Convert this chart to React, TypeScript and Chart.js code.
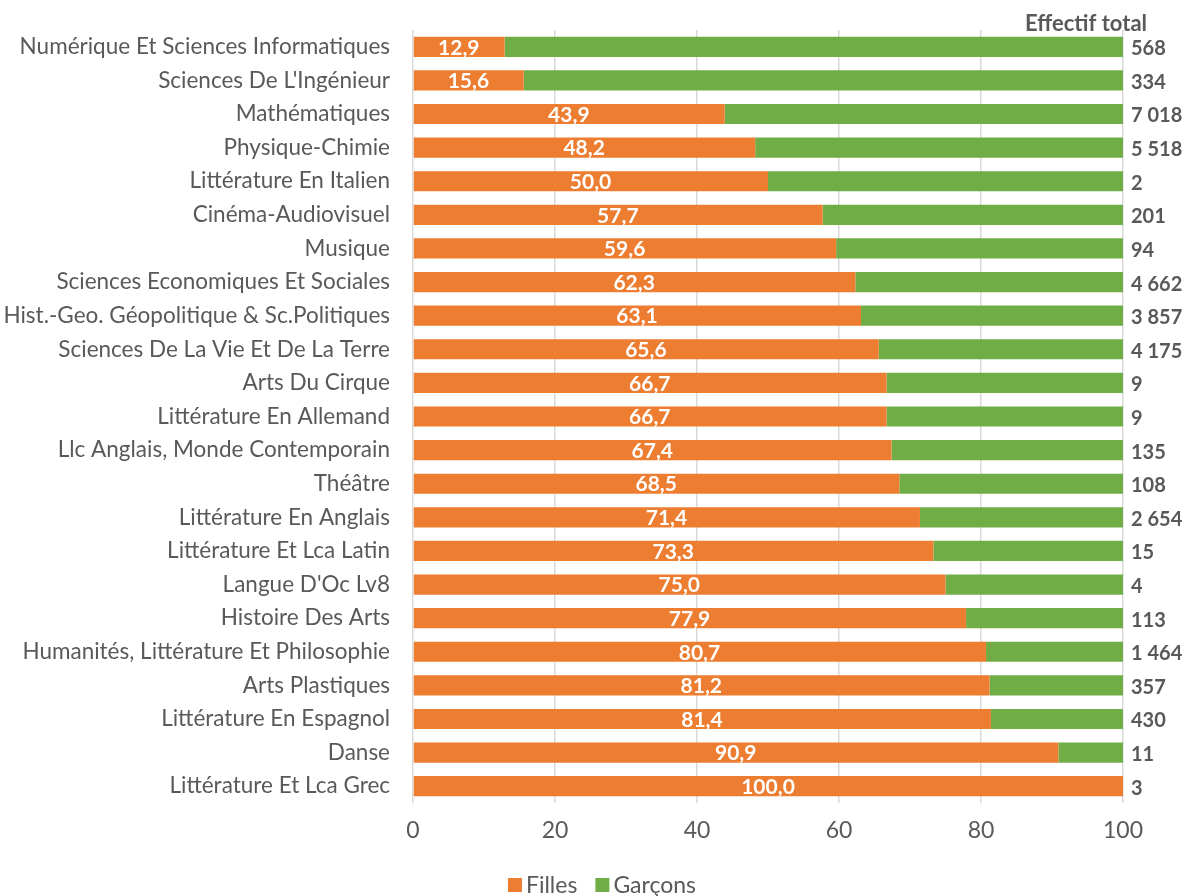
import React, { useEffect, useRef } from "react";
import { Chart, registerables } from "chart.js";

Chart.register(...registerables);

const categories = [
  "Numérique Et Sciences Informatiques",
  "Sciences De L'Ingénieur",
  "Mathématiques",
  "Physique-Chimie",
  "Littérature En Italien",
  "Cinéma-Audiovisuel",
  "Musique",
  "Sciences Economiques Et Sociales",
  "Hist.-Geo. Géopolitique & Sc.Politiques",
  "Sciences De La Vie Et De La Terre",
  "Arts Du Cirque",
  "Littérature En Allemand",
  "Llc Anglais, Monde Contemporain",
  "Théâtre",
  "Littérature En Anglais",
  "Littérature Et Lca Latin",
  "Langue D'Oc Lv8",
  "Histoire Des Arts",
  "Humanités, Littérature Et Philosophie",
  "Arts Plastiques",
  "Littérature En Espagnol",
  "Danse",
  "Littérature Et Lca Grec",
];

const filles = [
  12.9, 15.6, 43.9, 48.2, 50.0, 57.7, 59.6, 62.3, 63.1, 65.6, 66.7, 66.7, 67.4,
  68.5, 71.4, 73.3, 75.0, 77.9, 80.7, 81.2, 81.4, 90.9, 100.0,
];

const garcons = [
  87.1, 84.4, 56.1, 51.8, 50.0, 42.3, 40.4, 37.7, 36.9, 34.4, 33.3, 33.3, 32.6,
  31.5, 28.6, 26.7, 25.0, 22.1, 19.3, 18.8, 18.6, 9.1, 0.0,
];

const totals = [
  "568", "334", "7 018", "5 518", "2", "201", "94", "4 662", "3 857", "4 175",
  "9", "9", "135", "108", "2 654", "15", "4", "113", "1 464", "357", "430",
  "11", "3",
];

const xTicks = [0, 20, 40, 60, 80, 100];

const FONT = "Lato, 'Open Sans', sans-serif";
const GREY = "#595959";
const ORANGE = "#ED7D31";
const GREEN = "#70AD47";

export default function App() {
  const ref = useRef<HTMLCanvasElement>(null);

  useEffect(() => {
    if (!ref.current) return;
    const labelsPlugin = {
      id: "labelsPlugin",
      afterDatasetsDraw(chart: any) {
        const ctx = chart.ctx;
        const meta = chart.getDatasetMeta(0);
        const xScale = chart.scales.x;
        ctx.save();
        ctx.textBaseline = "middle";
        meta.data.forEach((bar: any, i: number) => {
          const v = filles[i];
          const left = xScale.getPixelForValue(0);
          const cx = (left + bar.x) / 2;
          ctx.font = `bold 21px ${FONT}`;
          ctx.fillStyle = "#ffffff";
          ctx.textAlign = "center";
          ctx.fillText(v.toFixed(1).replace(".", ","), cx, bar.y + 1);
          ctx.font = `bold 20px ${FONT}`;
          ctx.fillStyle = GREY;
          ctx.textAlign = "left";
          ctx.fillText(totals[i], xScale.getPixelForValue(100) + 8, bar.y + 2);
        });
        ctx.font = `bold 22px ${FONT}`;
        ctx.textAlign = "left";
        ctx.fillText("Effectif total", xScale.getPixelForValue(100) - 98, 24);

        // legend
        const items = chart.data.datasets.map((d: any) => ({
          label: d.label,
          color: d.backgroundColor,
        }));
        ctx.font = `23px ${FONT}`;
        const box = 14;
        const gapBox = 4;
        const gapItem = 18;
        const widths = items.map((it: any) => box + gapBox + ctx.measureText(it.label).width);
        const total = widths.reduce((a: number, b: number) => a + b, 0) + gapItem * (items.length - 1);
        let x = chart.width / 2 - total / 2 + 4;
        const y = 885;
        items.forEach((it: any, i: number) => {
          ctx.fillStyle = it.color;
          ctx.fillRect(x, y - box / 2, box, box);
          ctx.fillStyle = GREY;
          ctx.textAlign = "left";
          ctx.fillText(it.label, x + box + gapBox, y + 1);
          x += widths[i] + gapItem;
        });
        ctx.restore();
      },
    };

    const chart = new Chart(ref.current, {
      type: "bar",
      data: {
        labels: categories,
        datasets: [
          {
            label: "Filles",
            data: filles,
            backgroundColor: ORANGE,
            borderWidth: 0,
            barPercentage: 0.6,
            categoryPercentage: 1,
          },
          {
            label: "Garçons",
            data: garcons,
            backgroundColor: GREEN,
            borderWidth: 0,
            barPercentage: 0.6,
            categoryPercentage: 1,
          },
        ],
      },
      options: {
        indexAxis: "y",
        animation: false,
        responsive: false,
        maintainAspectRatio: false,
        layout: { padding: { top: 30, right: 73, left: 0, bottom: 0 } },
        scales: {
          x: {
            stacked: true,
            min: 0,
            max: 100,
            afterBuildTicks: (scale: any) => {
              scale.ticks = xTicks.map((v) => ({ value: v }));
            },
            afterFit: (scale: any) => {
              scale.height = 93;
            },
            grid: { color: "#D9D9D9", lineWidth: 1.5, drawTicks: false },
            border: { display: false },
            ticks: {
              color: GREY,
              font: { family: FONT, size: 23 },
              padding: 14,
            },
          },
          y: {
            stacked: true,
            afterFit: (scale: any) => {
              scale.width = 413;
              scale.paddingTop = 0;
              scale.paddingBottom = 0;
            },
            grid: { display: false, drawTicks: false },
            border: { display: false },
            ticks: {
              color: GREY,
              font: { family: FONT, size: 22.5 },
              padding: 23,
              autoSkip: false,
            },
          },
        },
        plugins: {
          legend: { display: false },
          tooltip: { enabled: false },
        },
      },
      plugins: [labelsPlugin],
    });
    return () => chart.destroy();
  }, []);

  return (
    <div style={{ position: "fixed", left: 0, top: 0, width: 1196, height: 896, background: "#fff" }}>
      <canvas ref={ref} width={1196} height={896} style={{ width: 1196, height: 896 }} />
    </div>
  );
}
